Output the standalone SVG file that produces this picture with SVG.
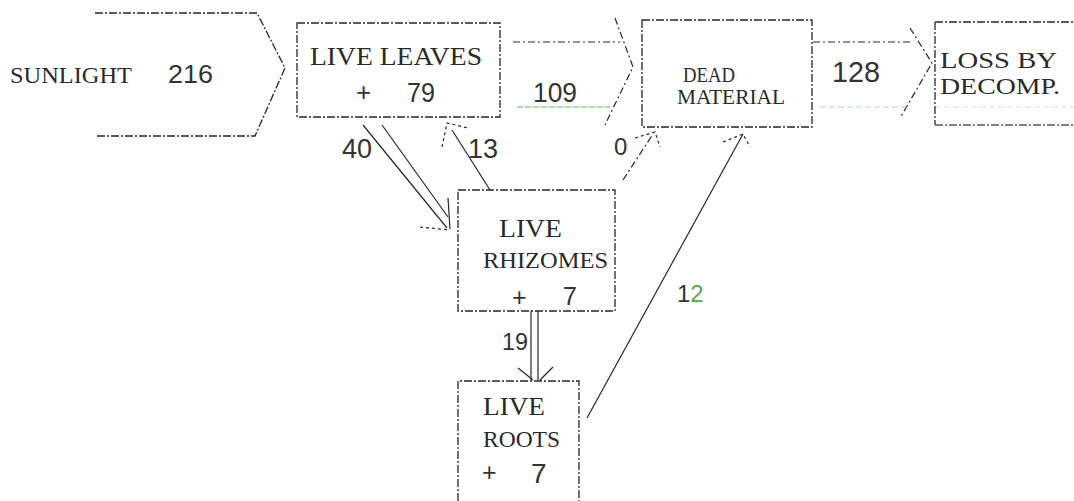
<svg xmlns="http://www.w3.org/2000/svg" width="1074" height="501" viewBox="0 0 1074 501">
<style>
.bg{fill:#ffffff}
.box{fill:none;stroke:#262626;stroke-width:1.3;stroke-dasharray:8 2 2 2}
.ln{fill:none;stroke:#262626;stroke-width:1.2}
.dl{fill:none;stroke:#262626;stroke-width:1.2;stroke-dasharray:7 3 2 3}
.dt{fill:none;stroke:#262626;stroke-width:1.2;stroke-dasharray:3 3}
.tw{font-family:"Liberation Serif","DejaVu Serif",serif;fill:#2a2a2a}
.nm{font-family:"Liberation Sans","DejaVu Sans",sans-serif;fill:#333333}
</style>
<rect class="bg" x="0" y="0" width="1074" height="501"/>

<g id="connectors">
  <!-- 109 flow -->
  <line class="dl" x1="513" y1="42" x2="620" y2="42"/>
  <polyline class="dl" points="615,18 633,67 605,125"/>
  <line x1="517" y1="107" x2="610" y2="107" stroke="#55bb55" stroke-width="1.5" stroke-dasharray="6 2" opacity="0.7"/>
  <!-- 128 flow -->
  <line class="dl" x1="813" y1="42" x2="912" y2="42"/>
  <polyline class="dl" points="910,28 932,63 900,118"/>
  <line x1="820" y1="107" x2="907" y2="107" stroke="#88c0c0" stroke-width="1.2" stroke-dasharray="6 3" opacity="0.6"/>
  <!-- 40 -->
  <line class="ln" x1="363" y1="125" x2="447" y2="228"/>
  <line class="ln" x1="382" y1="125" x2="448" y2="217"/>
  <polyline class="dt" points="420,227 450,230"/>
  <line class="ln" x1="448" y1="198" x2="450" y2="229"/>
  <!-- 13 -->
  <line class="ln" x1="490" y1="190" x2="452" y2="130"/>
  <polyline class="dt" points="442,147 447,123 468,128"/>
  <!-- 0 -->
  <line class="dl" x1="623" y1="180" x2="653" y2="134"/>
  <polyline class="dt" points="635,138 655,132 660,147"/>
  <!-- 12 -->
  <line class="ln" x1="587" y1="418" x2="743" y2="134"/>
  <polyline class="dt" points="723,142 743,134 750,147"/>
  <!-- 19 -->
  <line class="ln" x1="531" y1="311" x2="531" y2="380"/>
  <line class="ln" x1="538" y1="311" x2="538" y2="380"/>
  <line class="ln" x1="518" y1="368" x2="533" y2="380"/>
  <line class="ln" x1="553" y1="367" x2="540" y2="380"/>
</g>

<g id="sunlight">
  <path class="box" d="M95,13 H257 L285,68 L255,136 H95"/>
  <text class="tw" x="10" y="83" font-size="24" textLength="122" lengthAdjust="spacingAndGlyphs">SUNLIGHT</text>
  <text class="nm" x="168" y="83" font-size="25" textLength="45" lengthAdjust="spacingAndGlyphs">216</text>
</g>

<g id="live-leaves">
  <rect class="box" x="297" y="23" width="203" height="94"/>
  <text class="tw" x="310" y="65" font-size="25" textLength="172" lengthAdjust="spacingAndGlyphs">LIVE LEAVES</text>
  <text class="nm" x="356" y="101" font-size="26">+</text>
  <text class="nm" x="407" y="102" font-size="27" textLength="28" lengthAdjust="spacingAndGlyphs">79</text>
  <text class="nm" x="533" y="102" font-size="27" textLength="44" lengthAdjust="spacingAndGlyphs">109</text>
</g>

<g id="dead-material">
  <rect class="box" x="642" y="20" width="170" height="107"/>
  <text class="tw" x="683" y="82" font-size="21" textLength="52" lengthAdjust="spacingAndGlyphs">DEAD</text>
  <text class="tw" x="677" y="104" font-size="20" textLength="108" lengthAdjust="spacingAndGlyphs">MATERIAL</text>
  <text class="nm" x="832" y="82" font-size="29" textLength="48" lengthAdjust="spacingAndGlyphs">128</text>
</g>

<g id="loss-by-decomp">
  <path class="box" d="M935,22 H1074 M935,22 V125"/>
  <line x1="935" y1="125" x2="1074" y2="125" stroke="#6a4a7a" stroke-width="1.3" stroke-dasharray="8 2 2 2"/>
  <line x1="935" y1="107" x2="1074" y2="107" stroke="#bcbcd0" stroke-width="1" stroke-dasharray="6 3" opacity="0.5"/>
  <text class="tw" x="940" y="68" font-size="23" textLength="117" lengthAdjust="spacingAndGlyphs">LOSS BY</text>
  <text class="tw" x="940" y="94" font-size="23" textLength="120" lengthAdjust="spacingAndGlyphs">DECOMP.</text>
</g>

<g id="live-rhizomes">
  <rect class="box" x="458" y="190" width="157" height="121"/>
  <text class="tw" x="499" y="237" font-size="26" textLength="63" lengthAdjust="spacingAndGlyphs">LIVE</text>
  <text class="tw" x="483" y="268" font-size="24" textLength="125" lengthAdjust="spacingAndGlyphs">RHIZOMES</text>
  <text class="nm" x="512" y="306" font-size="25">+</text>
  <text class="nm" x="563" y="305" font-size="25" fill="#3a5a2a">7</text>
  <text class="nm" x="502" y="350" font-size="24" textLength="26" lengthAdjust="spacingAndGlyphs">19</text>
  <text class="nm" x="614" y="155" font-size="24">0</text>
  <text class="nm" x="342" y="158" font-size="28" textLength="30" lengthAdjust="spacingAndGlyphs">40</text>
  <text class="nm" x="468" y="158" font-size="28" textLength="30" lengthAdjust="spacingAndGlyphs">13</text>
</g>

<g id="live-roots">
  <path class="box" d="M458,501 V381 H579 V501"/>
  <text class="tw" x="483" y="415" font-size="26" textLength="62" lengthAdjust="spacingAndGlyphs">LIVE</text>
  <text class="tw" x="483" y="447" font-size="23" textLength="77" lengthAdjust="spacingAndGlyphs">ROOTS</text>
  <text class="nm" x="482" y="481" font-size="25">+</text>
  <text class="nm" x="531" y="483" font-size="28">7</text>
  <text class="nm" x="677" y="302" font-size="24"><tspan>1</tspan><tspan fill="#5aa64a">2</tspan></text>
</g>
</svg>
